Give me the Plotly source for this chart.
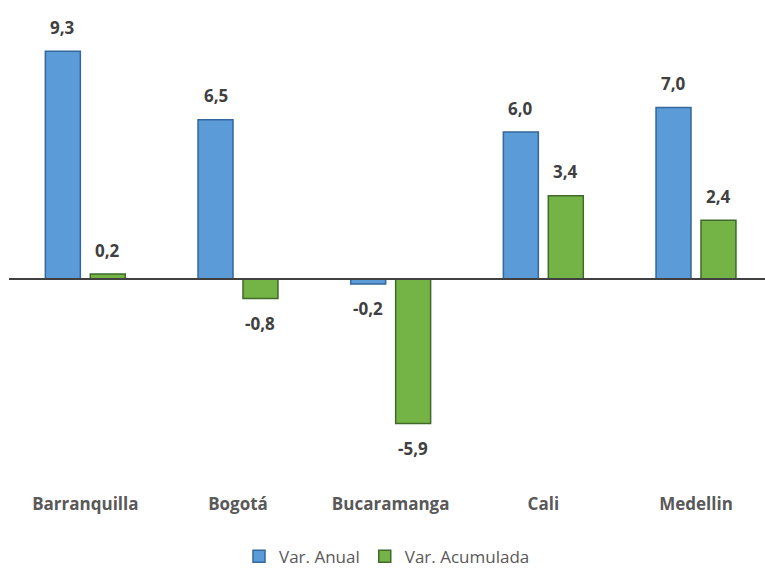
import plotly.graph_objects as go

categories = ["Barranquilla", "Bogotá", "Bucaramanga", "Cali", "Medellin"]
var_anual = [9.3, 6.5, -0.2, 6.0, 7.0]
var_acumulada = [0.2, -0.8, -5.9, 3.4, 2.4]
series_names = ["Var. Anual", "Var. Acumulada"]

BARGAP = 0.411
GROUPGAP = 0.222
Y_RANGE = [-8.694, 10.98]

fig = go.Figure()
fig.add_trace(go.Bar(
    x=categories, y=var_anual, name=series_names[0],
    marker=dict(color="#5B9BD8", line=dict(color="#35679C", width=1.5)),
))
fig.add_trace(go.Bar(
    x=categories, y=var_acumulada, name=series_names[1],
    marker=dict(color="#74B446", line=dict(color="#40692A", width=1.5)),
))

def fmt(v):
    return f"{v:.1f}".replace(".", ",")

slot = (1 - BARGAP) / 2
offsets = [-slot / 2, slot / 2]
annotations = []
for s, vals in enumerate([var_anual, var_acumulada]):
    for i, v in enumerate(vals):
        annotations.append(dict(
            x=i + offsets[s], y=v, xref="x", yref="y",
            text=fmt(v), showarrow=False,
            yshift=24 if v >= 0 else -25,
            font=dict(family="Open Sans", size=17, color="#404040", weight="bold"),
        ))

# zero baseline expressed in paper coordinates so it can run to the right edge
zero_paper = (0 - Y_RANGE[0]) / (Y_RANGE[1] - Y_RANGE[0])

fig.update_layout(
    width=765, height=568,
    margin=dict(l=9, r=0, t=10, b=76),
    paper_bgcolor="white", plot_bgcolor="white",
    barmode="group", bargap=BARGAP, bargroupgap=GROUPGAP,
    showlegend=True,
    legend=dict(
        orientation="h", x=0.5, xanchor="center",
        yref="container", y=0.02, yanchor="middle",
        font=dict(family="Open Sans", size=17, color="#595959"),
        itemwidth=30, traceorder="normal",
    ),
    annotations=annotations,
    shapes=[dict(
        type="line", xref="paper", yref="paper", x0=0, x1=1.05,
        y0=zero_paper, y1=zero_paper,
        line=dict(color="#404040", width=2), layer="above",
    )],
    xaxis=dict(
        range=[-0.5, 4.452], showgrid=False, showline=False, ticks="",
        tickfont=dict(family="Open Sans", size=17, color="#595959", weight="bold"),
    ),
    yaxis=dict(
        range=Y_RANGE, showgrid=False, showticklabels=False,
        zeroline=False, showline=False, ticks="",
    ),
)

fig.write_html("out.html")
